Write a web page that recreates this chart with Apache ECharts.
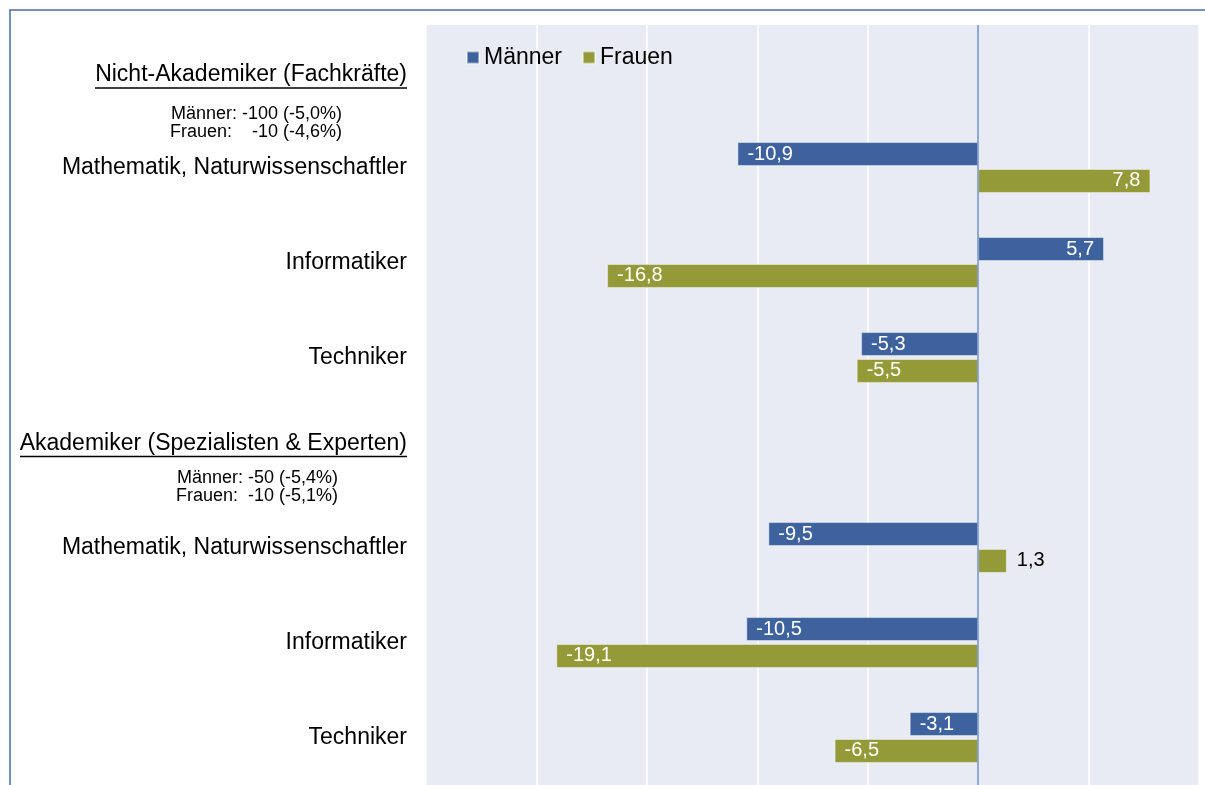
<!DOCTYPE html>
<html lang="de">
<head>
<meta charset="utf-8">
<title>Männer / Frauen</title>
<script src="https://cdn.jsdelivr.net/npm/echarts@6.0.0/dist/echarts.min.js"></script>
<style>
	html, body { margin: 0; padding: 0; background: #fff; }
	#chart { width: 1205px; height: 785px; }
</style>
</head>
<body>
<div id="chart"></div>
<script>
	// Daten
	const categories = [
		'Nicht-Akademiker (Fachkräfte)',
		'Mathematik, Naturwissenschaftler',
		'Informatiker',
		'Techniker',
		'Akademiker (Spezialisten & Experten)',
		'Mathematik, Naturwissenschaftler',
		'Informatiker',
		'Techniker'
	];
	const maenner = ['-', -10.9, 5.7, -5.3, '-', -9.5, -10.5, -3.1];
	const frauen = ['-', 7.8, -16.8, -5.5, '-', 1.3, -19.1, -6.5];
	const notesNichtAkad = ['Männer: -100 (-5,0%)', 'Frauen:    -10 (-4,6%)'];
	const notesAkad = ['Männer: -50 (-5,4%)', 'Frauen:  -10 (-5,1%)'];
	const xTicks = [-25, -20, -15, -10, -5, 0, 5, 10];

	const FONT = '"Liberation Sans", Arial, sans-serif';
	const BLUE = '#3E629E';
	const OLIVE = '#949A38';

	function fmt(v) {
		return v.toFixed(1).replace('.', ',');
	}

	// Breite fuer die Unterstreichung der Ueberschriften
	function textWidth(text, size) {
		let ctx = document.createElement('canvas').getContext('2d');
		ctx.font = size + 'px "Liberation Sans", Arial, sans-serif';
		return Math.round(ctx.measureText(text).width);
	}

	function barLabel(v) {
		if (v === '-') return { show: false };
		let small = Math.abs(v) < 2;
		let pos;
		if (small) {
			pos = v >= 0 ? 'right' : 'left';
		} else {
			pos = v >= 0 ? 'insideRight' : 'insideLeft';
		}
		return { show: true, position: pos, color: small ? '#000' : '#fff' };
	}

	function toData(arr) {
		return arr.map(v => ({ value: v, label: barLabel(v) }));
	}

	const headers = {
		0: { notes: notesNichtAkad, key: 'a' },
		4: { notes: notesAkad, key: 'b' }
	};

	const rich = {
		topa: { height: 59, lineHeight: 59, fontSize: 1 },
		topb: { height: 32, lineHeight: 32, fontSize: 1 },
		h: { fontSize: 23, lineHeight: 24, color: '#000', align: 'right', fontFamily: FONT },
		ua: { width: textWidth(categories[0], 23), height: 1.5, lineHeight: 2, fontSize: 1, backgroundColor: '#000', align: 'right' },
		ub: { width: textWidth(categories[4], 23), height: 1.5, lineHeight: 2, fontSize: 1, backgroundColor: '#000', align: 'right' },
		gapa: { height: 16, lineHeight: 16, fontSize: 1 },
		gapb: { height: 12, lineHeight: 12, fontSize: 1 },
		na: { fontSize: 18, lineHeight: 18, color: '#000', align: 'right', padding: [0, 65, 0, 0], fontFamily: FONT },
		nb: { fontSize: 18, lineHeight: 18, color: '#000', align: 'right', padding: [0, 69, 0, 0], fontFamily: FONT }
	};

	let chart = echarts.init(document.getElementById('chart'));
	let option = {
		animation: false,
		textStyle: { fontFamily: FONT },
		graphic: [{
			type: 'rect',
			shape: { x: 10, y: 10, width: 1400, height: 1000 },
			style: { fill: 'none', stroke: '#4A6AA5', lineWidth: 1.5 },
			silent: true
		}],
		legend: {
			data: ['Männer', 'Frauen'],
			left: 461,
			top: 41,
			icon: 'rect',
			itemWidth: 12,
			itemHeight: 12,
			itemGap: 20,
			textStyle: { fontSize: 23, color: '#000' }
		},
		grid: {
			left: 426,
			right: 6,
			top: 25,
			bottom: 0,
			show: true,
			backgroundColor: '#E8EBF3',
			borderWidth: 0
		},
		xAxis: {
			type: 'value',
			min: xTicks[0],
			max: xTicks[xTicks.length - 1],
			interval: 5,
			axisLabel: { show: false },
			axisLine: { show: false },
			axisTick: { show: false },
			splitLine: { show: true, lineStyle: { color: '#fff', width: 1.5 } }
		},
		yAxis: {
			type: 'category',
			data: categories,
			inverse: true,
			axisLine: { show: false },
			axisTick: { show: false },
			axisLabel: {
				interval: 0,
				margin: 19,
				fontSize: 23,
				color: '#000',
				rich: rich,
				formatter: function (value, index) {
					let h = headers[index];
					if (!h) return value;
					let k = h.key;
					return '{top' + k + '| }\n' +
						'{h|' + value + '}\n' +
						'{u' + k + '| }\n' +
						'{gap' + k + '| }\n' +
						'{n' + k + '|' + h.notes[0] + '}\n' +
						'{n' + k + '|' + h.notes[1] + '}';
				}
			}
		},
		series: [
			{
				name: 'Männer',
				type: 'bar',
				data: toData(maenner),
				barWidth: 24,
				barGap: '12%',
				itemStyle: { color: BLUE, borderColor: 'rgba(255,255,255,0.45)', borderWidth: 1 },
				label: { fontSize: 20, distance: 10, formatter: p => fmt(p.value) },
				markLine: {
					silent: true,
					symbol: 'none',
					label: { show: false },
					lineStyle: { color: '#6F8CC4', width: 1.5, type: 'solid' },
					data: [{ xAxis: 0 }]
				}
			},
			{
				name: 'Frauen',
				type: 'bar',
				data: toData(frauen),
				barWidth: 24,
				barGap: '12%',
				itemStyle: { color: OLIVE, borderColor: 'rgba(255,255,255,0.45)', borderWidth: 1 },
				label: { fontSize: 20, distance: 10, formatter: p => fmt(p.value) }
			}
		]
	};
	chart.setOption(option);
</script>
</body>
</html>
